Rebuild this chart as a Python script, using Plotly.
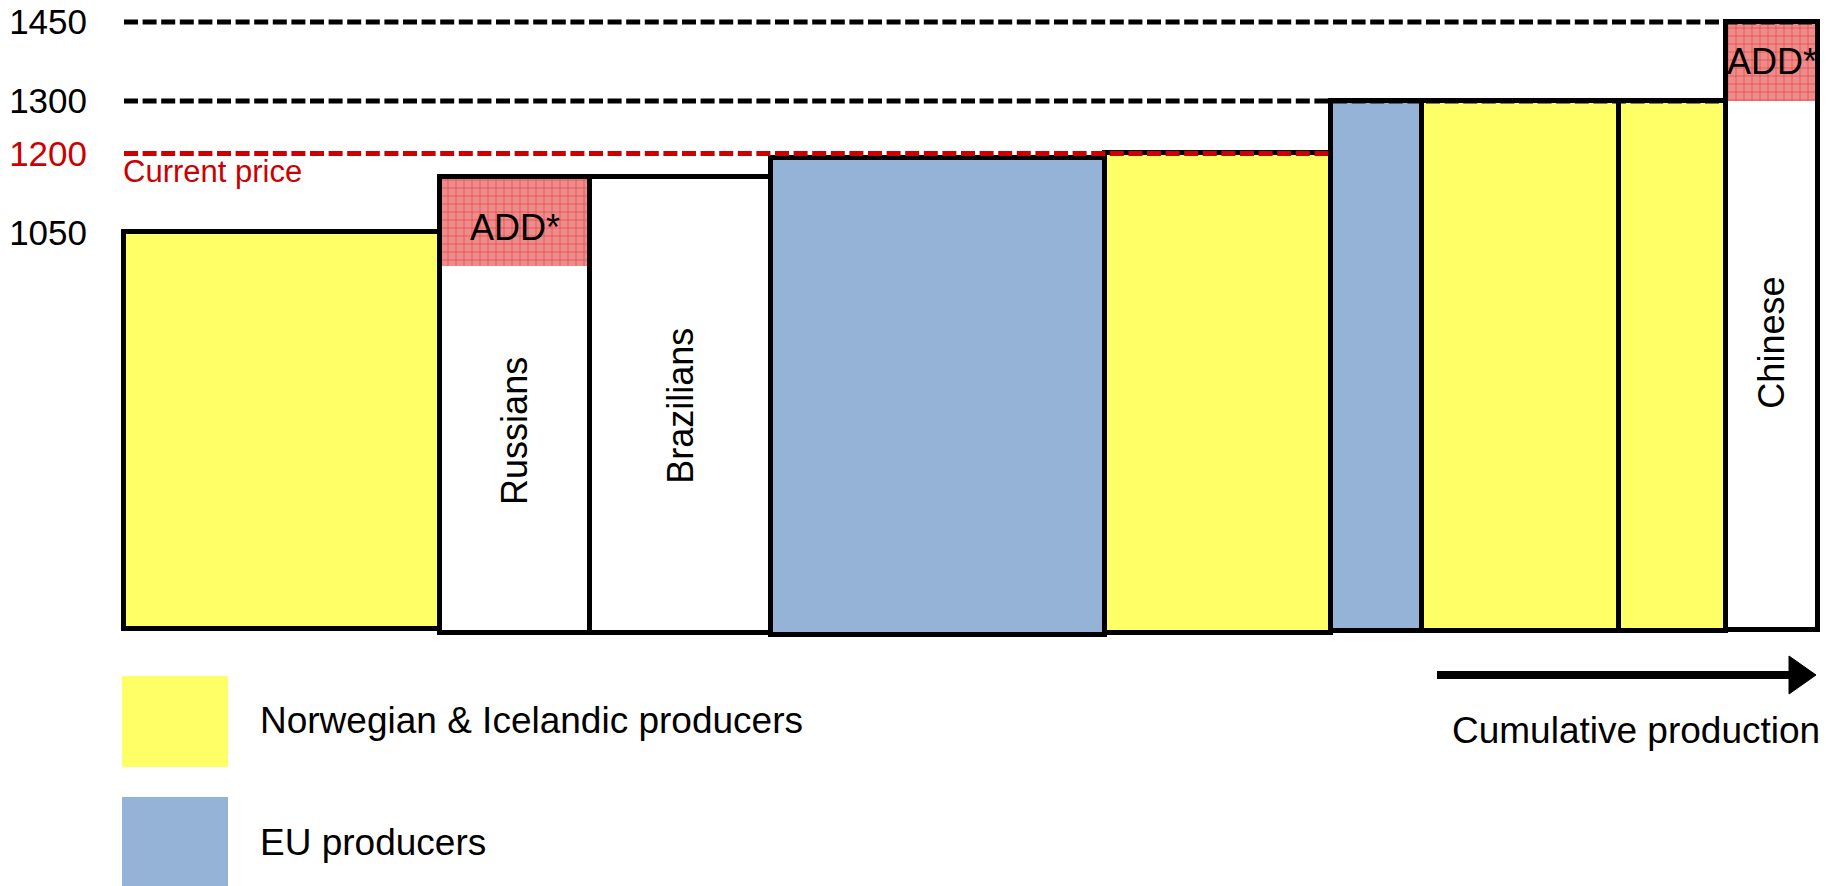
import numpy as np
import plotly.graph_objects as go

# ---- data -------------------------------------------------------------
# producer groups along the cost curve, left to right (cumulative production)
groups = ["NI", "RU", "BR", "EU", "NI", "EU", "NI", "NI", "CN"]
widths = [316, 150, 181, 334, 226, 91, 197, 107, 92]          # production volume
tops = [1050, 1155, 1155, 1192, 1200, 1300, 1300, 1300, 1450]  # delivered cost incl. duty
bases = [296, 288, 288, 284, 288, 292, 292, 292, 294]
add_low = [None, 985, None, None, None, None, None, None, 1300]  # cost before anti-dumping duty
bar_names = ["", "Russians", "Brazilians", "", "", "", "", "", "Chinese"]

tick_values = [1050, 1200, 1300, 1450]
current_price = 1200
ref_levels = [1450, 1300]

legend_items = [("NI", "Norwegian & Icelandic producers"), ("EU", "EU producers")]

# ---- styling ----------------------------------------------------------
FONT = "Liberation Sans, Arial, Helvetica, sans-serif"
W, H = 1836, 886
PLOT_L = 100
colors = {"NI": "#FFFF66", "EU": "#95B3D7", "RU": "#FFFFFF", "BR": "#FFFFFF", "CN": "#FFFFFF"}
RED = "#CC0000"
ADD_BG = "#EE8C8C"
ADD_FG = "#E02828"
DASH = "14px,4.6px"


def px(xp):
    """page pixel -> paper x"""
    return (xp - PLOT_L) / (W - PLOT_L)


def py(yp):
    """page pixel -> paper y"""
    return 1 - yp / H


widths_a = np.array(widths, dtype=float)
rights = np.cumsum(widths_a)
lefts = rights - widths_a
centers = lefts + widths_a / 2
tops_a = np.array(tops, dtype=float)
bases_a = np.array(bases, dtype=float)

fig = go.Figure()

# supply blocks
fig.add_trace(go.Bar(
    x=centers, base=bases_a, y=tops_a - bases_a, width=widths_a,
    marker=dict(color=[colors[g] for g in groups], line=dict(color="black", width=0)),
    hoverinfo="skip", showlegend=False,
))

# anti-dumping duty portions
add_idx = [i for i, v in enumerate(add_low) if v is not None]
fig.add_trace(go.Bar(
    x=centers[add_idx],
    base=[add_low[i] for i in add_idx],
    y=[tops[i] - add_low[i] for i in add_idx],
    width=widths_a[add_idx],
    marker=dict(color=ADD_BG, line=dict(width=0),
                pattern=dict(shape="+", bgcolor=ADD_BG, fgcolor=ADD_FG,
                             size=8, solidity=0.12, fillmode="replace")),
    hoverinfo="skip", showlegend=False,
))

# block outlines on top
fig.add_trace(go.Bar(
    x=centers, base=bases_a, y=tops_a - bases_a, width=widths_a,
    marker=dict(color="rgba(0,0,0,0)", line=dict(color="black", width=5)),
    hoverinfo="skip", showlegend=False,
))


def level_end(level):
    """dashed level runs until the first block that rises above it"""
    for i, t in enumerate(tops):
        if t > level:
            return lefts[i]
    return rights[-1]


for lv in ref_levels:
    fig.add_trace(go.Scatter(
        x=[0, level_end(lv)], y=[lv, lv], mode="lines",
        line=dict(color="black", width=5, dash=DASH),
        hoverinfo="skip", showlegend=False,
    ))

fig.add_trace(go.Scatter(
    x=[0, level_end(current_price)], y=[current_price, current_price], mode="lines",
    line=dict(color=RED, width=5, dash=DASH),
    hoverinfo="skip", showlegend=False,
))

annotations = []

# rotated producer names
name_y = {1: 672, 2: 719, 8: 840}
for i, name in enumerate(bar_names):
    if name:
        annotations.append(dict(
            x=centers[i], y=name_y[i], xref="x", yref="y", text=name, textangle=-90,
            showarrow=False, font=dict(family=FONT, size=36, color="black"),
            xanchor="center", yanchor="middle",
        ))

# ADD* labels
add_label_shift = {1: -10, 8: 0}
for i in add_idx:
    annotations.append(dict(
        x=centers[i], y=(add_low[i] + tops[i]) / 2 + add_label_shift[i], xref="x", yref="y",
        text="ADD*", showarrow=False, font=dict(family=FONT, size=36, color="black"),
        xanchor="center", yanchor="middle",
    ))

annotations.append(dict(
    x=px(121), y=py(171), xref="paper", yref="paper", text="Current price",
    showarrow=False, font=dict(family=FONT, size=31, color=RED),
    xanchor="left", yanchor="middle",
))

# legend
shapes = []
legend_rows = [(676, 767, 720), (797, 890, 842)]
for (g, label), (y0, y1, yt) in zip(legend_items, legend_rows):
    shapes.append(dict(type="rect", xref="paper", yref="paper",
                       x0=px(122), x1=px(228), y0=py(y1), y1=py(y0),
                       fillcolor=colors[g], line=dict(width=0), layer="above"))
    annotations.append(dict(
        x=px(258), y=py(yt), xref="paper", yref="paper", text=label,
        showarrow=False, font=dict(family=FONT, size=37, color="black"),
        xanchor="left", yanchor="middle",
    ))

# cumulative production arrow
shapes.append(dict(type="line", xref="paper", yref="paper",
                   x0=px(1437), x1=px(1793), y0=py(675), y1=py(675),
                   line=dict(color="black", width=8)))
shapes.append(dict(type="path", xref="paper", yref="paper",
                   path=f"M {px(1789)},{py(656)} L {px(1816)},{py(675)} L {px(1789)},{py(694)} Z",
                   fillcolor="black", line=dict(color="black", width=1)))
annotations.append(dict(
    x=px(1636), y=py(730), xref="paper", yref="paper", text="Cumulative production",
    showarrow=False, font=dict(family=FONT, size=37, color="black"),
    xanchor="center", yanchor="middle",
))

tick_text = [f"<span style='color:{RED}'>{v}</span>" if v == current_price else str(v)
             for v in tick_values]

fig.update_layout(
    width=W, height=H,
    margin=dict(l=PLOT_L, r=0, t=0, b=0, pad=0),
    paper_bgcolor="white", plot_bgcolor="white",
    barmode="overlay", bargap=0,
    showlegend=False,
    xaxis=dict(range=[PLOT_L - 124, W - 124], visible=False, fixedrange=True),
    yaxis=dict(range=[-194, 1492], tickvals=tick_values, ticktext=tick_text,
               tickfont=dict(family=FONT, size=35, color="black"),
               showgrid=False, zeroline=False, showline=False, ticks="",
               ticklabelstandoff=12, fixedrange=True),
    shapes=shapes,
    annotations=annotations,
    font=dict(family=FONT),
)

fig.write_html("out.html", config={"displayModeBar": False})
